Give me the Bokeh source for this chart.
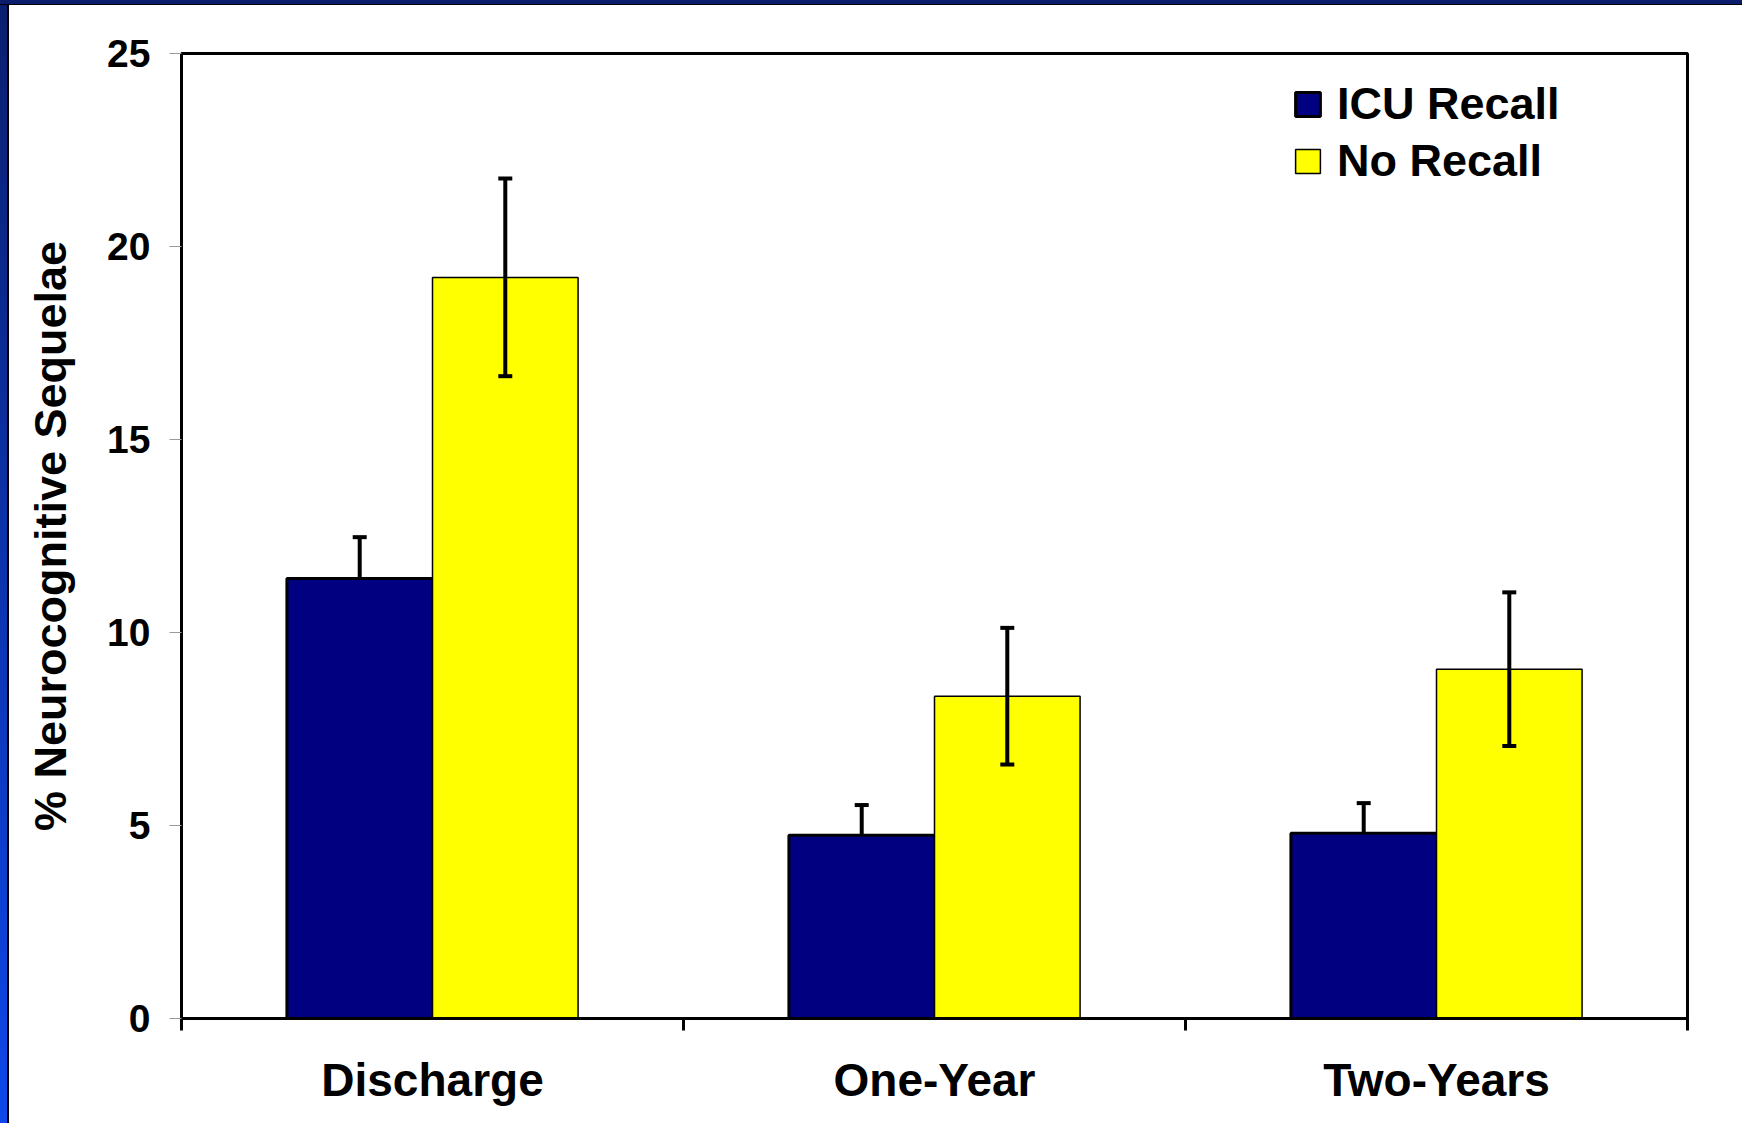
import numpy as np
from bokeh.plotting import figure
from bokeh.models import ColumnDataSource, Whisker, TeeHead, FixedTicker, Range1d
from bokeh.embed import file_html
from bokeh.resources import INLINE

# ---- data ----
categories = ["Discharge", "One-Year", "Two-Years"]
icu_recall = [11.4, 4.75, 4.8]
icu_recall_err = [1.07, 0.78, 0.78]
no_recall = [19.2, 8.35, 9.05]
no_recall_err = [2.56, 1.77, 1.99]
y_ticks = [0, 5, 10, 15, 20, 25]

FONT = "Liberation Sans"
centers = np.arange(len(categories)) + 0.5
bar_w = 0.29

src_icu = ColumnDataSource(dict(
    x=centers - bar_w / 2, top=icu_recall,
    upper=np.array(icu_recall) + np.array(icu_recall_err),
    lower=np.array(icu_recall)))
src_no = ColumnDataSource(dict(
    x=centers + bar_w / 2, top=no_recall,
    upper=np.array(no_recall) + np.array(no_recall_err),
    lower=np.array(no_recall) - np.array(no_recall_err)))

p = figure(frame_width=1506, frame_height=965,
           x_range=Range1d(0, len(categories)), y_range=Range1d(0, 25),
           output_backend="svg", toolbar_location=None,
           min_border_left=181, min_border_right=55,
           min_border_top=53, min_border_bottom=105)
p.background_fill_color = "white"
p.border_fill_color = "white"
p.border_fill_alpha = 0
p.outline_line_color = "black"
p.outline_line_width = 3
p.xgrid.grid_line_color = None
p.ygrid.grid_line_color = None

p.vbar(x="x", top="top", width=bar_w, bottom=0, source=src_icu,
       fill_color="#000080", line_color="black", line_width=3,
       legend_label="ICU Recall")
p.vbar(x="x", top="top", width=bar_w, bottom=0, source=src_no,
       fill_color="#FFFF00", line_color="black", line_width=1.5,
       legend_label="No Recall")

w1 = Whisker(base="x", upper="upper", lower="lower", source=src_icu,
             line_width=4, line_color="black", level="overlay",
             upper_head=TeeHead(size=14, line_width=4, line_color="black"),
             lower_head=None)
w2 = Whisker(base="x", upper="upper", lower="lower", source=src_no,
             line_width=4, line_color="black", level="overlay",
             upper_head=TeeHead(size=14, line_width=4, line_color="black"),
             lower_head=TeeHead(size=14, line_width=4, line_color="black"))
p.add_layout(w1)
p.add_layout(w2)

# x axis: labels at category centers, tick marks at category boundaries
xa = p.xaxis[0]
xa.ticker = FixedTicker(ticks=list(centers),
                        minor_ticks=list(range(len(categories) + 1)))
xa.major_label_overrides = {float(c): n for c, n in zip(centers, categories)}
xa.major_tick_out = 0
xa.major_tick_in = 0
xa.minor_tick_out = 12
xa.minor_tick_in = 0
xa.minor_tick_line_width = 3
xa.minor_tick_line_color = "black"
xa.axis_line_width = 3
xa.axis_line_color = "black"
xa.major_label_standoff = 23
xa.major_label_text_font = FONT
xa.major_label_text_font_style = "bold"
xa.major_label_text_font_size = "46px"
xa.major_label_text_color = "black"

ya = p.yaxis[0]
ya.ticker = FixedTicker(ticks=y_ticks)
ya.major_tick_out = 12
ya.major_tick_in = 0
ya.major_tick_line_color = "#999999"
ya.major_tick_line_width = 1
ya.minor_tick_line_color = None
ya.axis_line_width = 3
ya.axis_line_color = "black"
ya.major_label_standoff = 19
ya.major_label_text_font = FONT
ya.major_label_text_font_style = "bold"
ya.major_label_text_font_size = "39px"
ya.major_label_text_color = "black"
ya.axis_label = "% Neurocognitive Sequelae"
ya.axis_label_text_font = FONT
ya.axis_label_text_font_style = "bold"
ya.axis_label_text_font_size = "45px"
ya.axis_label_text_color = "black"
ya.axis_label_standoff = 28

lg = p.legend[0]
lg.location = (1111, 831)
lg.padding = 0
lg.margin = 0
lg.spacing = 5
lg.border_line_alpha = 0
lg.background_fill_alpha = 0
lg.glyph_width = 31
lg.glyph_height = 30
lg.label_standoff = 14
lg.label_text_font = FONT
lg.label_text_font_style = "bold"
lg.label_text_font_size = "45px"
lg.label_text_color = "black"

html = file_html(p, INLINE)
body_style = ('<body style="margin:0;background:'
              'linear-gradient(#0a1c6b,#0a1c6b) 0 0/100% 4px no-repeat,'
              'linear-gradient(#000,#000) 0 4px/100% 1px no-repeat,'
              'linear-gradient(#000,#000) 7px 0/2px 100% no-repeat,'
              'linear-gradient(to bottom,#0a1f6e,#0e48ea) 0 0/7px 100% no-repeat,'
              '#ffffff;"')
head_end = html.find("</head>")
if head_end >= 0:
    pos = html.find("<body", head_end)
    if pos >= 0:
        html = html[:pos] + body_style + html[pos + len("<body"):]
open("out.html", "w").write(html)
